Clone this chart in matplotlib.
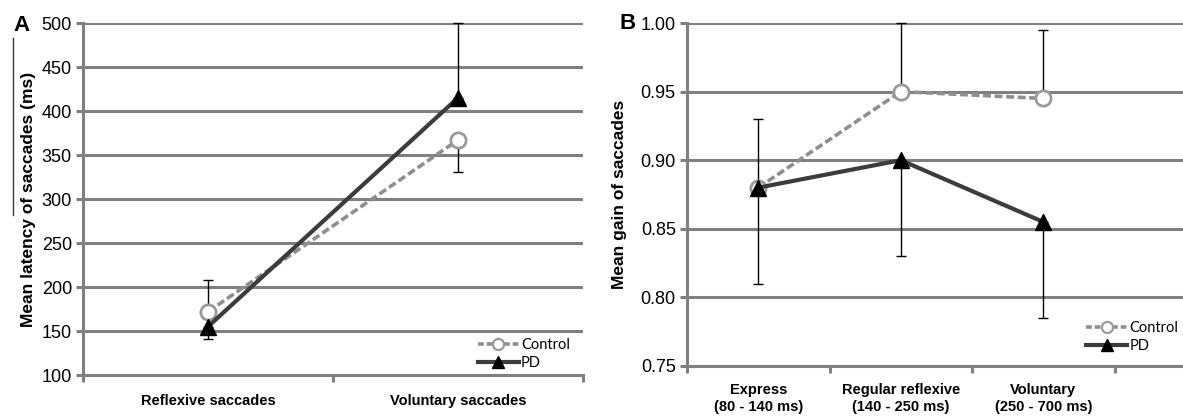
#!/usr/bin/env python3
"""Saccade latency (A) and gain (B) for Control vs PD, redrawn from a figure."""

import matplotlib

matplotlib.use("Agg")
import matplotlib.pyplot as plt
from matplotlib.lines import Line2D

# panel A: mean latency (ms)
lat_categories = ["Reflexive saccades", "Voluntary saccades"]
lat_control = [172, 367]
lat_control_lo = [0, 36]
lat_control_hi = [36, 0]
lat_pd = [155, 415]
lat_pd_lo = [14, 0]
lat_pd_hi = [0, 85]
lat_yticks = [100, 150, 200, 250, 300, 350, 400, 450, 500]

# panel B: mean gain
gain_categories = ["Express\n(80 - 140 ms)", "Regular reflexive\n(140 - 250 ms)", "Voluntary\n(250 - 700 ms)"]
gain_control = [0.88, 0.95, 0.945]
gain_control_lo = [0, 0, 0]
gain_control_hi = [0.05, 0.05, 0.05]
gain_pd = [0.88, 0.90, 0.855]
gain_pd_lo = [0.07, 0.07, 0.07]
gain_pd_hi = [0, 0, 0]
gain_yticks = [0.75, 0.80, 0.85, 0.90, 0.95, 1.00]

GRID = "#808080"
CTRL = "#8f8f8f"
PD = "#3c3c3c"

plt.rcParams["font.family"] = ["Liberation Sans", "DejaVu Sans"]


def style_axes(ax, ncat, xmax):
    ax.set_xlim(-0.5, xmax)
    for side in ("top", "right"):
        ax.spines[side].set_visible(False)
    for side in ("left", "bottom"):
        ax.spines[side].set_color(GRID)
        ax.spines[side].set_linewidth(2.2)
    ax.yaxis.grid(True, color=GRID, linewidth=2.2)
    ax.set_axisbelow(True)
    ax.tick_params(axis="y", length=5, width=2.2, color=GRID, labelsize=13, pad=3)
    ax.set_xticks(range(ncat))
    ax.set_xticks([i - 0.5 for i in range(ncat + 1)], minor=True)
    ax.tick_params(axis="x", which="major", length=0, pad=14)
    ax.tick_params(axis="x", which="minor", length=5, width=2.2, color=GRID)


def draw_series(ax, x, ctrl, ctrl_lo, ctrl_hi, pd, pd_lo, pd_hi):
    ax.errorbar(x, ctrl, yerr=[ctrl_lo, ctrl_hi], fmt="none", ecolor="black",
                elinewidth=1, capsize=3.5, capthick=1, clip_on=False, zorder=3)
    ax.errorbar(x, pd, yerr=[pd_lo, pd_hi], fmt="none", ecolor="black",
                elinewidth=1, capsize=3.5, capthick=1, clip_on=False, zorder=3)
    ax.plot(x, ctrl, color=CTRL, linewidth=2.6, dashes=(2.2, 1.0), marker="o",
            markersize=11, markerfacecolor="white", markeredgecolor="#9a9a9a",
            markeredgewidth=2, clip_on=False, zorder=4)
    ax.plot(x, pd, color=PD, linewidth=3, marker="^", markersize=12,
            markerfacecolor="black", markeredgecolor="black", clip_on=False, zorder=5)


def add_legend(ax, anchor):
    handles = [
        Line2D([], [], color=CTRL, linewidth=2.6, dashes=(1.6, 0.8), marker="o",
               markersize=8, markerfacecolor="white", markeredgecolor="#9a9a9a", markeredgewidth=1.6),
        Line2D([], [], color=PD, linewidth=3, marker="^", markersize=8,
               markerfacecolor="black", markeredgecolor="black"),
    ]
    ax.legend(handles, ["Control", "PD"], loc="upper left", bbox_to_anchor=anchor,
              frameon=False, handlelength=2.8, handletextpad=0.15, labelspacing=0.25,
              borderpad=0, borderaxespad=0, prop={"family": ["Lato", "DejaVu Sans"], "size": 10.5})


fig = plt.figure(figsize=(11.83, 4.2), dpi=100)

# ---- panel A
ax_a = fig.add_axes([0.0702, 0.1071, 0.4226, 0.8381])
style_axes(ax_a, len(lat_categories), 1.5)
x_a = list(range(len(lat_categories)))
draw_series(ax_a, x_a, lat_control, lat_control_lo, lat_control_hi, lat_pd, lat_pd_lo, lat_pd_hi)
ax_a.set_ylim(100, 500)
ax_a.set_yticks(lat_yticks)
ax_a.set_xticklabels(lat_categories, fontsize=10.5, fontweight="bold")
ax_a.set_ylabel("Mean latency of saccades (ms)", fontsize=12.5, fontweight="bold", labelpad=4)
add_legend(ax_a, (0.79, 0.105))
fig.text(0.011, 0.94, "A", fontsize=16, fontweight="bold", ha="left", va="center")
fig.add_artist(Line2D([13 / 1183, 13 / 1183], [1 - 38 / 420, 1 - 215 / 420],
                      color="#333333", linewidth=1))

# ---- panel B
ax_b = fig.add_axes([0.5807, 0.1286, 0.4193, 0.8166])
style_axes(ax_b, len(gain_categories), 2.98)
x_b = list(range(len(gain_categories)))
draw_series(ax_b, x_b, gain_control, gain_control_lo, gain_control_hi, gain_pd, gain_pd_lo, gain_pd_hi)
ax_b.set_ylim(0.75, 1.00)
ax_b.set_yticks(gain_yticks)
ax_b.set_yticklabels([f"{v:.2f}" for v in gain_yticks])
ax_b.set_xticklabels(gain_categories, fontsize=10.5, fontweight="bold", linespacing=1.3)
ax_b.tick_params(axis="x", which="major", pad=12)
ax_b.set_ylabel("Mean gain of saccades", fontsize=12.5, fontweight="bold", labelpad=10)
add_legend(ax_b, (0.805, 0.13))
fig.text(0.524, 0.945, "B", fontsize=16, fontweight="bold", ha="left", va="center")

fig.savefig("out.png", dpi=100)
